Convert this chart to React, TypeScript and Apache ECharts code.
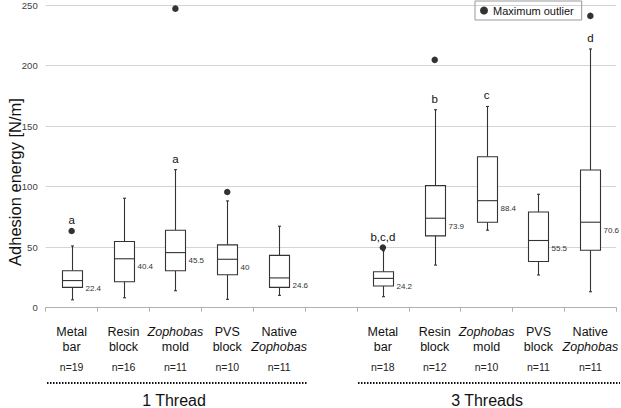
import React, { useEffect, useRef } from "react";
import * as echarts from "echarts";

// ---- data ----
const materials = ["Metal bar", "Resin block", "Zophobas mold", "PVS block", "Native Zophobas"];
const nOneThread = [19, 16, 11, 10, 11];
const nThreeThreads = [18, 12, 10, 11, 11];
const groupTitles = ["1 Thread", "3 Threads"];
const yAxisTitle = "Adhesion energy [N/m]";
const yTicks = [0, 50, 100, 150, 200, 250];

// 11 slots: 5 (1 thread), gap, 5 (3 threads)
const whiskerLow = [6.5, 8.2, 14, 6.9, 10.2, null, 9.1, 35.2, 64, 27, 13.2];
const q1 = [16.8, 21.4, 30.5, 27.2, 16.8, null, 17.9, 59.3, 70.6, 38.2, 47.5];
const median = [22.4, 40.4, 45.5, 40, 24.6, null, 24.2, 73.9, 88.4, 55.5, 70.6];
const q3 = [30.5, 54.7, 64, 51.9, 43.2, null, 29.7, 100.8, 124.7, 79.1, 113.7];
const whiskerHigh = [51, 90.4, 114, 88.2, 67.3, null, 47, 163.5, 166.2, 93.7, 213.7];
const maxOutlier = [63.3, null, 247, 95.6, null, null, 49.7, 204.7, null, null, 241];
const letters = ["a", "", "a", "", "", "", "b,c,d", "b", "c", "", "d"];

const FONT = "'Liberation Sans', Arial, Helvetica, sans-serif";

const slotIds = Array.from({ length: 11 }, (_, i) => "slot" + i);

function labelFor(index: number): string {
  if (index === 5) return "";
  const g = index < 5 ? 0 : 1;
  const k = index < 5 ? index : index - 6;
  const words = materials[k].split(" ");
  const n = g === 0 ? nOneThread[k] : nThreeThreads[k];
  const lines = words.map((w) => (w === "Zophobas" ? `{i|${w}}` : `{a|${w}}`));
  return lines.join("\n") + `\n{n|n=${n}}`;
}

export default function App() {
  const ref = useRef<HTMLDivElement>(null);
  useEffect(() => {
    if (!ref.current) return;
    const chart = echarts.init(ref.current, undefined, { renderer: "svg" });

    const boxData = slotIds
      .map((_, i) =>
        median[i] == null ? null : [i, whiskerLow[i], q1[i], median[i], q3[i], whiskerHigh[i]]
      )
      .filter((d) => d !== null);

    const outlierData = slotIds
      .map((_, i) => (maxOutlier[i] == null ? null : [i, maxOutlier[i]]))
      .filter((d) => d !== null);

    const letterData = slotIds
      .map((_, i) => {
        if (!letters[i]) return null;
        const wh = whiskerHigh[i] as number;
        const o = maxOutlier[i];
        const anchor = o != null && o - wh < 20 ? o : wh;
        return { value: [i, anchor], letter: letters[i] };
      })
      .filter((d) => d !== null);

    const BOX_W = 20;

    chart.setOption({
      animation: false,
      textStyle: { fontFamily: FONT },
      grid: { left: 45.7, right: 1.7, top: 4, bottom: 100.3 },
      legend: {
        data: ["Maximum outlier"],
        left: 475,
        top: 1,
        padding: [4, 8, 4, 5],
        itemWidth: 8,
        itemHeight: 8,
        borderColor: "#999",
        borderWidth: 1,
        textStyle: { fontSize: 11, color: "#111", fontFamily: FONT },
      },
      xAxis: {
        type: "category",
        data: slotIds,
        boundaryGap: true,
        axisLine: { lineStyle: { color: "#b0b0b0", width: 1 } },
        axisTick: { show: true, length: 4, lineStyle: { color: "#b0b0b0" } },
        axisLabel: {
          interval: 0,
          margin: 17,
          color: "#111",
          formatter: (_v: string, idx: number) => labelFor(idx),
          rich: {
            a: { fontSize: 12.5, lineHeight: 15, fontFamily: FONT, color: "#111" },
            i: { fontSize: 12.5, lineHeight: 15, fontStyle: "italic", fontFamily: FONT, color: "#111" },
            n: { fontSize: 10.5, lineHeight: 25, fontFamily: FONT, color: "#222" },
          },
        },
      },
      yAxis: {
        type: "value",
        min: yTicks[0],
        max: yTicks[yTicks.length - 1],
        interval: 50,
        axisLine: { show: false },
        axisTick: { show: false },
        axisLabel: { fontSize: 9.5, color: "#404040", margin: 8 },
        splitLine: { lineStyle: { color: "#d4d4d4", width: 1 } },
      },
      series: [
        {
          type: "custom",
          name: "box",
          data: boxData,
          itemStyle: { color: "#333" },
          encode: { x: 0, y: [1, 2, 3, 4, 5] },
          renderItem: (params: any, api: any) => {
            const x = api.value(0);
            const pLow = api.coord([x, api.value(1)]);
            const pQ1 = api.coord([x, api.value(2)]);
            const pMed = api.coord([x, api.value(3)]);
            const pQ3 = api.coord([x, api.value(4)]);
            const pHigh = api.coord([x, api.value(5)]);
            const cx = Math.round(pMed[0]) + 0.5;
            const left = cx - BOX_W / 2;
            const right = cx + BOX_W / 2;
            const stroke = { stroke: "#333", lineWidth: 1.1 };
            return {
              type: "group",
              children: [
                { type: "line", shape: { x1: cx, y1: pHigh[1], x2: cx, y2: pQ3[1] }, style: stroke },
                { type: "line", shape: { x1: cx, y1: pQ1[1], x2: cx, y2: pLow[1] }, style: stroke },
                { type: "line", shape: { x1: cx - 1.5, y1: pHigh[1], x2: cx + 1.5, y2: pHigh[1] }, style: stroke },
                { type: "line", shape: { x1: cx - 1.5, y1: pLow[1], x2: cx + 1.5, y2: pLow[1] }, style: stroke },
                {
                  type: "rect",
                  shape: { x: left, y: pQ3[1], width: BOX_W, height: pQ1[1] - pQ3[1] },
                  style: { fill: "#fff", stroke: "#333", lineWidth: 1.1 },
                },
                { type: "line", shape: { x1: left, y1: pMed[1], x2: right, y2: pMed[1] }, style: stroke },
                {
                  type: "text",
                  x: right + 3,
                  y: pMed[1] + 8,
                  style: {
                    text: String(api.value(3)),
                    fill: "#333",
                    fontSize: 8,
                    fontFamily: FONT,
                    verticalAlign: "middle",
                    align: "left",
                  },
                },
              ],
            };
          },
          z: 2,
        },
        {
          type: "custom",
          name: "letters",
          itemStyle: { color: "#111" },
          data: letterData.map((d: any) => d.value),
          encode: { x: 0, y: 1 },
          renderItem: (params: any, api: any) => {
            const p = api.coord([api.value(0), api.value(1)]);
            return {
              type: "text",
              x: p[0],
              y: p[1] - 11,
              style: {
                text: (letterData[params.dataIndex] as any).letter,
                fill: "#111",
                fontSize: 11.5,
                fontFamily: FONT,
                align: "center",
                verticalAlign: "middle",
              },
            };
          },
          z: 3,
        },
        {
          type: "scatter",
          name: "Maximum outlier",
          data: outlierData,
          symbol: "circle",
          symbolSize: 6.5,
          itemStyle: { color: "#000" },
          z: 4,
        },
      ],
      graphic: [
        {
          type: "text",
          x: 15,
          y: 182,
          rotation: Math.PI / 2,
          style: {
            text: yAxisTitle,
            fontSize: 16.5,
            fontFamily: FONT,
            fill: "#111",
            align: "center",
            verticalAlign: "middle",
          },
        },
        {
          type: "line",
          shape: { x1: 47, y1: 383, x2: 307, y2: 383 },
          style: { stroke: "#111", lineWidth: 2, lineDash: [1.5, 1.5] },
        },
        {
          type: "line",
          shape: { x1: 358, y1: 383, x2: 620, y2: 383 },
          style: { stroke: "#111", lineWidth: 2, lineDash: [1.5, 1.5] },
        },
        {
          type: "text",
          x: 174,
          y: 400,
          style: {
            text: groupTitles[0],
            fontSize: 16,
            fontFamily: FONT,
            fill: "#111",
            align: "center",
            verticalAlign: "middle",
          },
        },
        {
          type: "text",
          x: 487,
          y: 400,
          style: {
            text: groupTitles[1],
            fontSize: 16,
            fontFamily: FONT,
            fill: "#111",
            align: "center",
            verticalAlign: "middle",
          },
        },
      ],
    });
    return () => chart.dispose();
  }, []);
  return (
    <div
      ref={ref}
      style={{ position: "fixed", left: 0, top: 0, width: 621, height: 408, background: "#fff" }}
    />
  );
}
